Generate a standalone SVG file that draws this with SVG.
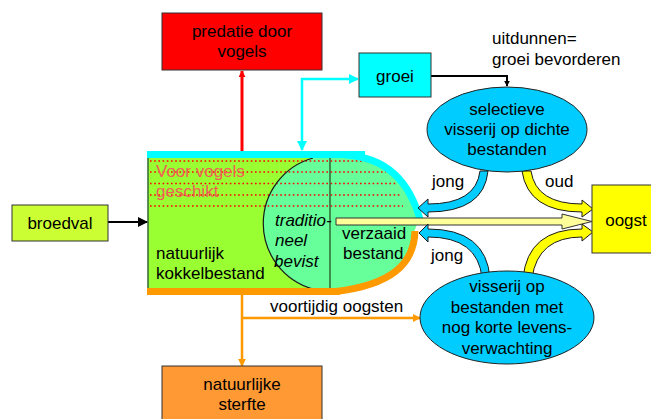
<svg xmlns="http://www.w3.org/2000/svg" width="651" height="419" viewBox="0 0 651 419">
<style>
text{font-family:"Liberation Sans",Arial,sans-serif;font-size:17px;fill:#000}
.c{text-anchor:middle}
.box{stroke:#333;stroke-width:1}
.ell{fill:#00ccff;stroke:#222;stroke-width:1}
.dot{stroke:#ff0000;stroke-width:1.6;stroke-dasharray:1.6 2.6;fill:none}
.red{fill:#f25c54}
.it{font-style:italic}
.fat{stroke:#1a1a1a;stroke-width:1}
</style>
<defs>
<marker id="mRed" viewBox="0 0 10 10" refX="9" refY="5" markerWidth="7" markerHeight="7" markerUnits="userSpaceOnUse" orient="auto"><path d="M0,0 L10,5 L0,10 z" fill="#ff0000"/></marker>
<marker id="mCyan" viewBox="0 0 10 10" refX="9" refY="5" markerWidth="10" markerHeight="10" markerUnits="userSpaceOnUse" orient="auto-start-reverse"><path d="M0,0 L10,5 L0,10 z" fill="#00ffff"/></marker>
<marker id="mBlack" viewBox="0 0 10 10" refX="9" refY="5" markerWidth="6" markerHeight="6" markerUnits="userSpaceOnUse" orient="auto"><path d="M0,0 L10,5 L0,10 z" fill="#000"/></marker>
<marker id="mBlackL" viewBox="0 0 10 10" refX="9" refY="5" markerWidth="10" markerHeight="10" markerUnits="userSpaceOnUse" orient="auto"><path d="M0,0 L10,5 L0,10 z" fill="#000"/></marker>
<marker id="mOrange" viewBox="0 0 10 10" refX="9" refY="5" markerWidth="8" markerHeight="8" markerUnits="userSpaceOnUse" orient="auto"><path d="M0,0 L10,5 L0,10 z" fill="#ff9900"/></marker>
</defs>

<g id="kokkelbestand">
<rect x="148" y="154" width="182" height="136" fill="#99ff33"/>
<path d="M313 158 L345 158 C385 160 408 182 418 222 L414 232 C413 265 390 285 336 289 L313 289 A68 68 0 0 1 313 158 Z" fill="#66ff99"/>
<path class="dot" d="M150 161 H372 M150 172 H386 M150 183.5 H397 M150 195 H401 M150 206 H403"/>
<path d="M313 158 A68 68 0 0 0 313 289" fill="none" stroke="#1a1a1a" stroke-width="1.2"/>
<line x1="330" y1="158" x2="330" y2="289" stroke="#336633" stroke-width="1.5"/>
<line x1="148" y1="154" x2="148" y2="290" stroke="#336633" stroke-width="1.5"/>
<text class="red" x="156" y="177">Voor vogels</text>
<text class="red" x="156" y="197">geschikt</text>
<text x="156" y="259">natuurlijk</text>
<text x="156" y="279">kokkelbestand</text>
<text class="it" x="275" y="226">traditio-</text>
<text class="it" x="275" y="246">neel</text>
<text class="it" x="274" y="267">bevist</text>
<text x="342" y="239">verzaaid</text>
<text x="343" y="259">bestand</text>
<rect x="147" y="151" width="218" height="7" fill="#00ffff"/>
<path d="M345 155 C385 157 410 180 421 223" fill="none" stroke="#00ffff" stroke-width="7"/>
<rect x="147" y="288" width="193" height="7" fill="#ff9900"/>
<path d="M336 291.5 C390 285 414 265 415 231" fill="none" stroke="#ff9900" stroke-width="7"/>
</g>

<g id="connectors">
<line x1="242" y1="151" x2="242" y2="71" stroke="#ff0000" stroke-width="3" marker-end="url(#mRed)"/>
<path d="M302 150 L302 79 L358 79" fill="none" stroke="#00ffff" stroke-width="2.5" marker-start="url(#mCyan)" marker-end="url(#mCyan)"/>
<path d="M431 76 L507 76 L507 86" fill="none" stroke="#000" stroke-width="2" marker-end="url(#mBlack)"/>
<line x1="108" y1="222" x2="147" y2="222" stroke="#000" stroke-width="2" marker-end="url(#mBlackL)"/>
<path d="M242 295 L242 366" fill="none" stroke="#ff9900" stroke-width="2.5" marker-end="url(#mOrange)"/>
<path d="M242 318 L420 318" fill="none" stroke="#ff9900" stroke-width="2.5" marker-end="url(#mOrange)"/>
<path d="M336 218 L562 218 L562 214 L592 221.5 L562 229 L562 225 L336 225 Z" fill="#ffff99" stroke="#333" stroke-width="1"/>
<path class="fat" fill="#00ccff" d="M480 171 Q476 204 428 204 L428 199 L418 208 L428 217 L428 212 Q484 212 488 171 Z"/>
<path class="fat" fill="#00ccff" d="M482 278 Q478 237 428 237 L428 242 L419 233 L428 224 L428 229 Q486 229 490 278 Z"/>
<path class="fat" fill="#ffff00" d="M522 171 Q528 212 582 212 L582 217 L593 209 L582 200 L582 204 Q536 204 531 171 Z"/>
<path class="fat" fill="#ffff00" d="M523 278 Q528 229 582 229 L582 224 L593 232 L582 241 L582 237 Q538 237 532 278 Z"/>
<text x="432" y="187">jong</text>
<text x="545" y="187">oud</text>
<text x="431" y="261">jong</text>
<text x="270" y="312">voortijdig oogsten</text>
</g>

<g id="predatie">
<rect class="box" x="162" y="13" width="160" height="57" fill="#ff0000"/>
<text class="c" x="242" y="37">predatie door</text>
<text class="c" x="242" y="57">vogels</text>
</g>

<g id="groei">
<rect class="box" x="359" y="53" width="72" height="44" fill="#00ffff"/>
<text class="c" x="395" y="82">groei</text>
</g>

<g id="uitdunnen">
<text x="492" y="44">uitdunnen=</text>
<text x="492" y="65">groei bevorderen</text>
</g>

<g id="selectieve">
<ellipse class="ell" cx="507" cy="129.5" rx="80" ry="42.5"/>
<text class="c" x="507" y="115">selectieve</text>
<text class="c" x="507" y="135">visserij op dichte</text>
<text class="c" x="507" y="155">bestanden</text>
</g>

<g id="visserij">
<ellipse class="ell" cx="507" cy="317.5" rx="87" ry="46.5"/>
<text class="c" x="507" y="292">visserij op</text>
<text class="c" x="507" y="313">bestanden met</text>
<text class="c" x="507" y="333">nog korte levens-</text>
<text class="c" x="507" y="354">verwachting</text>
</g>

<g id="broedval">
<rect class="box" x="12" y="205" width="96" height="36" fill="#ccff33"/>
<text class="c" x="60" y="229">broedval</text>
</g>

<g id="oogst">
<rect class="box" x="592" y="185" width="68" height="68" fill="#ffff00"/>
<text class="c" x="626" y="226">oogst</text>
</g>

<g id="sterfte">
<rect class="box" x="162" y="366" width="160" height="60" fill="#ff9933"/>
<text class="c" x="242" y="390">natuurlijke</text>
<text class="c" x="242" y="410">sterfte</text>
</g>
</svg>
